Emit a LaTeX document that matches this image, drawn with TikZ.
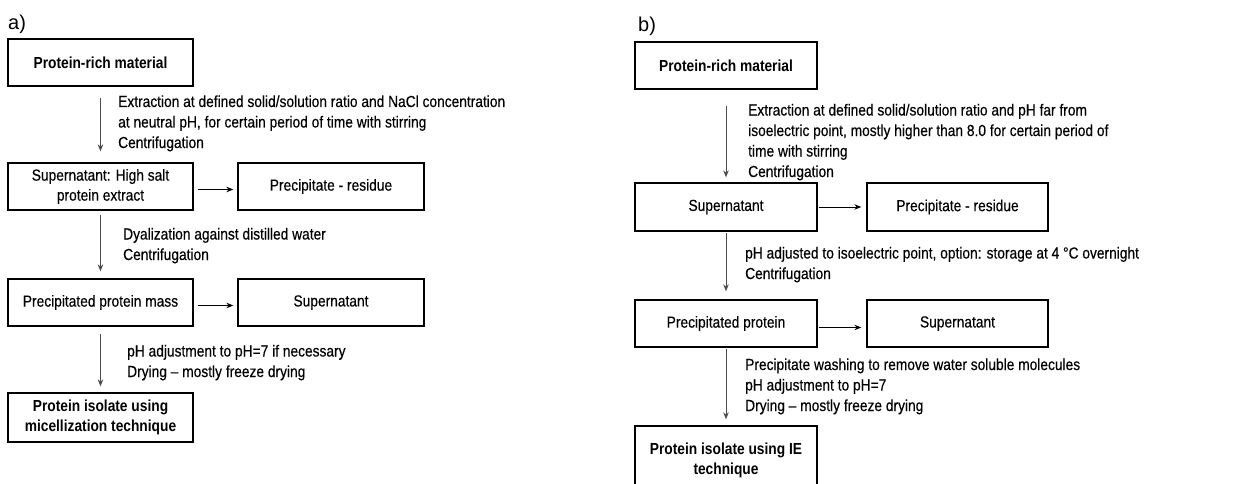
\documentclass[tikz,border=0pt]{standalone}
\usepackage{fontspec}
\setmainfont[FakeStretch=0.86, UprightFeatures={FakeBold=0.35}]{Liberation Sans}
\newfontfamily\labelfont{Liberation Sans}
\usetikzlibrary{arrows.meta}
\tikzset{
  box/.style={draw=black, line width=1.3pt, inner sep=0pt, align=center,
    font=\fontsize{16}{20}\selectfont},
  boldbox/.style={box, font=\fontsize{16}{20}\selectfont\bfseries},
  note/.style={anchor=base west, inner sep=0pt, align=left,
    font=\fontsize{16}{20.5}\selectfont},
  panel/.style={anchor=base west, inner sep=0pt, font=\labelfont\fontsize{20}{24}\selectfont},
  varr/.style={draw=black!70, line width=0.9pt, -{Stealth[length=7pt,width=5.5pt]}},
  harr/.style={draw=black, line width=0.9pt, -{Stealth[length=7pt,width=5.5pt]}},
}
\begin{document}
\begin{tikzpicture}[x=1pt,y=-1pt]
\useasboundingbox (0,0) rectangle (1239,484);
\clip (0,0) rectangle (1239,484);
% ---------------- panel a
\node[panel] (la) at (8,30) {a)};
\node[boldbox, minimum width=185pt, minimum height=47pt] (a1) at (100.5,62.5) {Protein-rich material};
\node[box, minimum width=185pt, minimum height=47pt] (a2) at (100.5,186.5) {Supernatant: High salt\\protein extract};
\node[box, minimum width=186pt, minimum height=47pt] (a3) at (331,186.5) {Precipitate - residue};
\node[box, minimum width=185pt, minimum height=47pt] (a4) at (100.5,302.5) {Precipitated protein mass};
\node[box, minimum width=186pt, minimum height=47pt] (a5) at (331,302.5) {Supernatant};
\node[boldbox, minimum width=185pt, minimum height=49pt] (a6) at (100.5,417.5) {Protein isolate using\\micellization technique};
\node[note] (ta1) at (118,148) {Extraction at defined solid/solution ratio and NaCl concentration\\at neutral pH, for certain period of time with stirring\\Centrifugation};
\node[note] (ta2) at (123,260) {Dyalization against distilled water\\Centrifugation};
\node[note] (ta3) at (127,377) {pH adjustment to pH=7 if necessary\\Drying -- mostly freeze drying};
\draw[varr, shorten <=11pt, shorten >=11pt] (a1.south) -- (a2.north);
\draw[varr, shorten <=4pt, shorten >=7pt] (a2.south) -- (a4.north);
\draw[varr, shorten <=7pt, shorten >=6pt] (a4.south) -- (a6.north);
\draw[harr, shorten <=4pt, shorten >=4pt] ([yshift=-3pt]a2.east) -- ([yshift=-3pt]a3.west);
\draw[harr, shorten <=4pt, shorten >=4pt] ([yshift=-3pt]a4.east) -- ([yshift=-3pt]a5.west);
% ---------------- panel b
\node[panel] (lb) at (638,32) {b)};
\node[boldbox, minimum width=182pt, minimum height=47pt] (b1) at (726,65.5) {Protein-rich material};
\node[box, minimum width=182pt, minimum height=48pt] (b2) at (726,207) {Supernatant};
\node[box, minimum width=181pt, minimum height=48pt] (b3) at (957.5,207) {Precipitate - residue};
\node[box, minimum width=182pt, minimum height=47pt] (b4) at (726,323.5) {Precipitated protein};
\node[box, minimum width=181pt, minimum height=47pt] (b5) at (957.5,323.5) {Supernatant};
\node[boldbox, minimum width=182pt, minimum height=68pt] (b6) at (726,460) {Protein isolate using IE\\technique};
\node[note] (tb1) at (748,177) {Extraction at defined solid/solution ratio and pH far from\\isoelectric point, mostly higher than 8.0 for certain period of\\time with stirring\\Centrifugation};
\node[note] (tb2) at (745,279) {pH adjusted to isoelectric point, option: storage at 4 °C overnight\\Centrifugation};
\node[note] (tb3) at (745,411) {Precipitate washing to remove water soluble molecules\\pH adjustment to pH=7\\Drying -- mostly freeze drying};
\draw[varr, shorten <=16pt, shorten >=5pt] (b1.south) -- (b2.north);
\draw[varr, shorten <=1pt, shorten >=8pt] (b2.south) -- (b4.north);
\draw[varr, shorten <=1pt, shorten >=6pt] (b4.south) -- (b6.north);
\draw[harr, shorten <=1pt, shorten >=5pt] (b2.east) -- (b3.west);
\draw[harr, shorten <=1pt, shorten >=5pt] ([yshift=-4pt]b4.east) -- ([yshift=-4pt]b5.west);
\end{tikzpicture}
\end{document}
